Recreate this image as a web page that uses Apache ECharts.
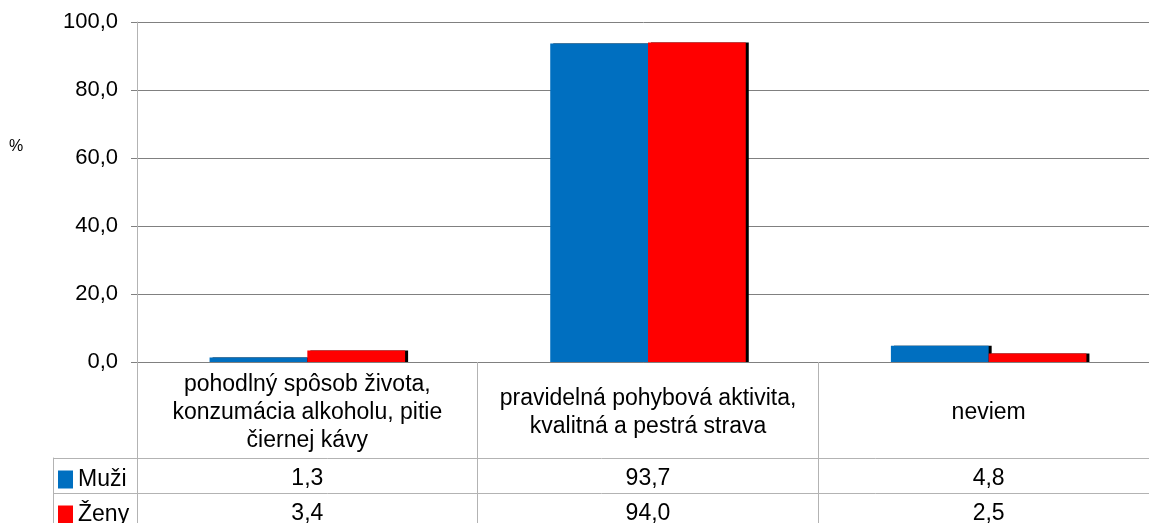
<!DOCTYPE html>
<html lang="sk">
<head>
    <meta charset="UTF-8">
    <title>Graf</title>
    <script src="https://cdn.jsdelivr.net/npm/echarts@6/dist/echarts.min.js"></script>
    <style>
        html, body { margin: 0; padding: 0; background: #fff; }
        #chart { width: 1149px; height: 523px; }
    </style>
</head>
<body>
<div id="chart"></div>
<script>
    // data -------------------------------------
    var categories = [
        ['pohodlný spôsob života,', 'konzumácia alkoholu, pitie', 'čiernej kávy'],
        ['pravidelná pohybová aktivita,', 'kvalitná a pestrá strava'],
        ['neviem']
    ];
    var seriesNames = ['Muži', 'Ženy'];
    var seriesColors = ['#006fc0', '#ff0000'];
    var muzi = [1.3, 93.7, 4.8];
    var zeny = [3.4, 94.0, 2.5];
    var yTicks = [0, 20, 40, 60, 80, 100];

    var font = "'Liberation Sans', Arial, sans-serif";
    function fmt(v) {
        return v.toFixed(1).replace('.', ',');
    }

    // table under the axis: category text + one row per series
    var catNames = categories.map(function (c) { return c.join(' '); });
    function tableLabel(value, idx) {
        var lines = categories[idx];
        var s = '{p' + lines.length + '| }\n';
        s += lines.map(function (l) { return '{c|' + l + '}'; }).join('\n');
        s += '\n{p' + lines.length + '| }';
        s += '\n{v|' + fmt(muzi[idx]) + '}';
        s += '\n{v|' + fmt(zeny[idx]) + '}';
        return s;
    }
    var rich = {
        c: { fontSize: 23, lineHeight: 28, fontFamily: font, color: '#000' },
        v: { fontSize: 23, lineHeight: 35, fontFamily: font, color: '#000' }
    };
    [1, 2, 3].forEach(function (n) {
        rich['p' + n] = { fontSize: 2, lineHeight: (96 - 28 * n) / 2 };
    });

    // key column of the table (legend)
    var keyRich = {
        t: { fontSize: 23, fontFamily: font, color: '#000', padding: [0, 0, 0, 5] }
    };
    seriesColors.forEach(function (c, i) {
        keyRich['m' + i] = { width: 15, height: 15, backgroundColor: c, padding: [3, 0, 0, 0] };
    });

    var chart = echarts.init(document.getElementById('chart'));
    var option = {
        animation: false,
        title: {
            text: '%',
            left: 9,
            top: 139,
            padding: 0,
            textStyle: { fontSize: 16, fontWeight: 'normal', color: '#000', fontFamily: font }
        },
        grid: [
            { left: 137, top: 22, right: -10, bottom: 161, outerBoundsMode: 'none' },
            { left: 53, top: 458, right: -10, height: 70, outerBoundsMode: 'none' }
        ],
        xAxis: [
            {
                type: 'category',
                gridIndex: 0,
                data: catNames,
                axisLine: { lineStyle: { color: '#808080' } },
                axisTick: { show: true, interval: 0, length: 175, lineStyle: { color: '#b3b3b3' } },
                axisLabel: {
                    interval: 0,
                    margin: 3,
                    formatter: tableLabel,
                    rich: rich
                }
            },
            { type: 'value', gridIndex: 1, show: false }
        ],
        yAxis: [
            {
                type: 'value',
                gridIndex: 0,
                min: yTicks[0],
                max: yTicks[yTicks.length - 1],
                interval: 20,
                axisLine: { show: true, lineStyle: { color: '#b3b3b3' } },
                axisTick: { show: true, length: 6, lineStyle: { color: '#808080' } },
                axisLabel: {
                    margin: 19,
                    fontSize: 22,
                    color: '#000',
                    fontFamily: font,
                    formatter: function (v) { return fmt(v); }
                },
                splitLine: { lineStyle: { color: '#808080' } }
            },
            {
                // table rows
                type: 'category',
                gridIndex: 1,
                inverse: true,
                data: seriesNames,
                axisLine: { show: true, lineStyle: { color: '#b3b3b3' } },
                axisTick: { show: false },
                axisLabel: {
                    inside: true,
                    margin: 5,
                    align: 'left',
                    padding: [8, 0, 0, 0],
                    formatter: function (v, i) { return '{m' + i + '|}{t|' + v + '}'; },
                    rich: keyRich
                },
                splitLine: { show: true, lineStyle: { color: '#b3b3b3' } }
            }
        ],
        series: [
            {
                name: seriesNames[0],
                type: 'bar',
                data: muzi,
                barGap: 0,
                barCategoryGap: '42.6%',
                itemStyle: {
                    color: seriesColors[0],
                    shadowColor: '#000',
                    shadowOffsetX: 3,
                    shadowOffsetY: 0,
                    shadowBlur: 0
                }
            },
            {
                name: seriesNames[1],
                type: 'bar',
                data: zeny,
                barGap: 0,
                barCategoryGap: '42.6%',
                itemStyle: {
                    color: seriesColors[1],
                    shadowColor: '#000',
                    shadowOffsetX: 3,
                    shadowOffsetY: 0,
                    shadowBlur: 0
                }
            }
        ]
    };
    chart.setOption(option);
</script>
</body>
</html>
